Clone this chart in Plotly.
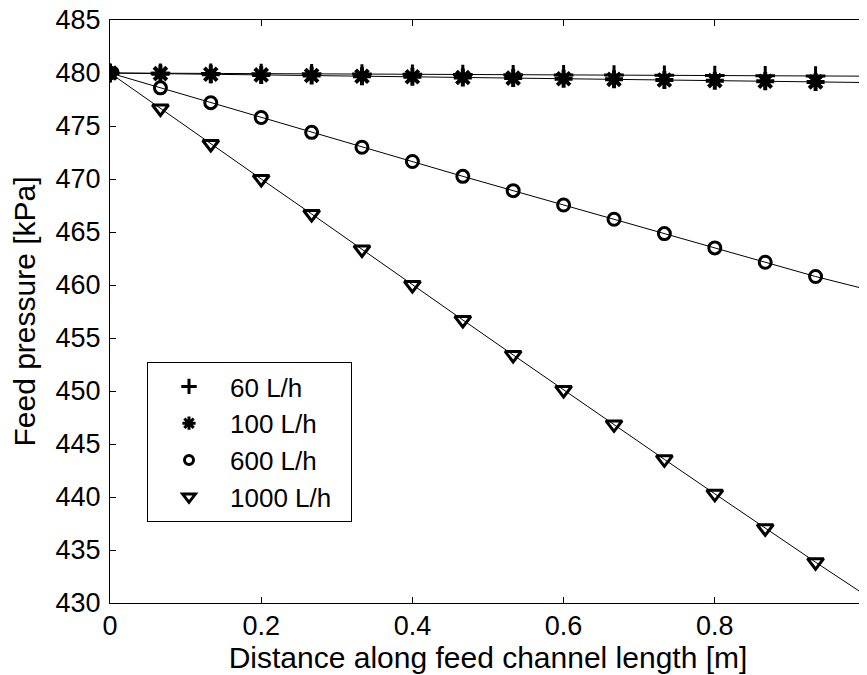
import plotly.graph_objects as go

x_line = [0, 0.0667, 0.1333, 0.2, 0.2667, 0.3333, 0.4, 0.4667, 0.5333, 0.6, 0.6667, 0.7333, 0.8, 0.8667, 0.9333, 1.0]
p60 = [480.0, 479.98, 479.96, 479.94, 479.92, 479.9, 479.88, 479.86, 479.84, 479.82, 479.8, 479.78, 479.76, 479.74, 479.72, 479.7]
p100 = [480.0, 479.94, 479.88, 479.82, 479.76, 479.7, 479.64, 479.58, 479.52, 479.46, 479.4, 479.34, 479.28, 479.22, 479.16, 479.1]
p600 = [480.0, 478.6, 477.2, 475.8, 474.4, 473.0, 471.65, 470.25, 468.9, 467.55, 466.2, 464.85, 463.5, 462.15, 460.8, 459.6]
p1000 = [480.0, 476.65, 473.3, 470.0, 466.7, 463.35, 460.0, 456.7, 453.4, 450.1, 446.85, 443.55, 440.3, 437.05, 433.85, 430.7]
labels = ["60 L/h", "100 L/h", "600 L/h", "1000 L/h"]
x_ticks = [0, 0.2, 0.4, 0.6, 0.8, 1]
x_ticktext = ["0", "0.2", "0.4", "0.6", "0.8", "1"]
y_ticks = [430, 435, 440, 445, 450, 455, 460, 465, 470, 475, 480, 485]

series = [p60, p100, p600, p1000]
symbols = ["cross-thin-open", "asterisk-open", "circle-open", "triangle-down-open"]
sizes = [14, 15, 12, 14]
widths = [3, 4, 3, 3]
leg_sizes = [11, 11, 9, 11]

fig = go.Figure()
for s in series:
    fig.add_trace(go.Scatter(x=x_line, y=s, mode="lines",
                             line=dict(color="black", width=1), showlegend=False,
                             hoverinfo="skip"))
for s, sym, sz, w in zip(series, symbols, sizes, widths):
    fig.add_trace(go.Scatter(x=x_line[:-1], y=s[:-1], mode="markers",
                             marker=dict(symbol=sym, size=sz, color="black",
                                         line=dict(color="black", width=w)),
                             showlegend=False))
for i, (lab, sym, sz) in enumerate(zip(labels, symbols, leg_sizes)):
    # trailing no-break spaces on the last entry only widen the legend box
    name = lab + ("\u00a0\u00a0" if i == len(labels) - 1 else "")
    fig.add_trace(go.Scatter(x=[None], y=[None], mode="markers", name=name,
                             marker=dict(symbol=sym, size=sz, color="black",
                                         line=dict(color="black", width=3))))

# page body has an 8px margin; size the figure so the plot box lands where the reference has it
fig.update_layout(
    width=859, height=667,
    margin=dict(l=102, r=1, t=12, b=72),
    paper_bgcolor="white", plot_bgcolor="white",
    font=dict(family="Liberation Sans, Arial, sans-serif", color="black", size=26),
    legend=dict(x=(147 - 110) / 756, y=(603 - 362) / 583, xanchor="left", yanchor="top",
                bordercolor="black", borderwidth=1, bgcolor="white",
                font=dict(size=26), itemwidth=72, tracegroupgap=0),
)
fig.update_xaxes(range=[0, 1], tickvals=x_ticks, ticktext=x_ticktext,
                 ticks="inside", ticklen=6, tickcolor="black", mirror="ticks",
                 showline=True, linecolor="black", linewidth=1, showgrid=False,
                 zeroline=False, tickfont=dict(size=27), automargin=False,
                 ticklabelstandoff=-1, ticklabeloverflow="allow",
                 title=dict(text="Distance along feed channel length [m]", standoff=0,
                            font=dict(size=30)))
fig.update_yaxes(range=[430, 485], tickvals=y_ticks,
                 ticks="inside", ticklen=6, tickcolor="black", mirror="ticks",
                 showline=True, linecolor="black", linewidth=1, showgrid=False,
                 zeroline=False, tickfont=dict(size=27), automargin=False,
                 ticklabelstandoff=3, ticklabeloverflow="allow",
                 title=dict(text="Feed pressure [kPa]", standoff=14, font=dict(size=30)))

fig.write_html("out.html")
